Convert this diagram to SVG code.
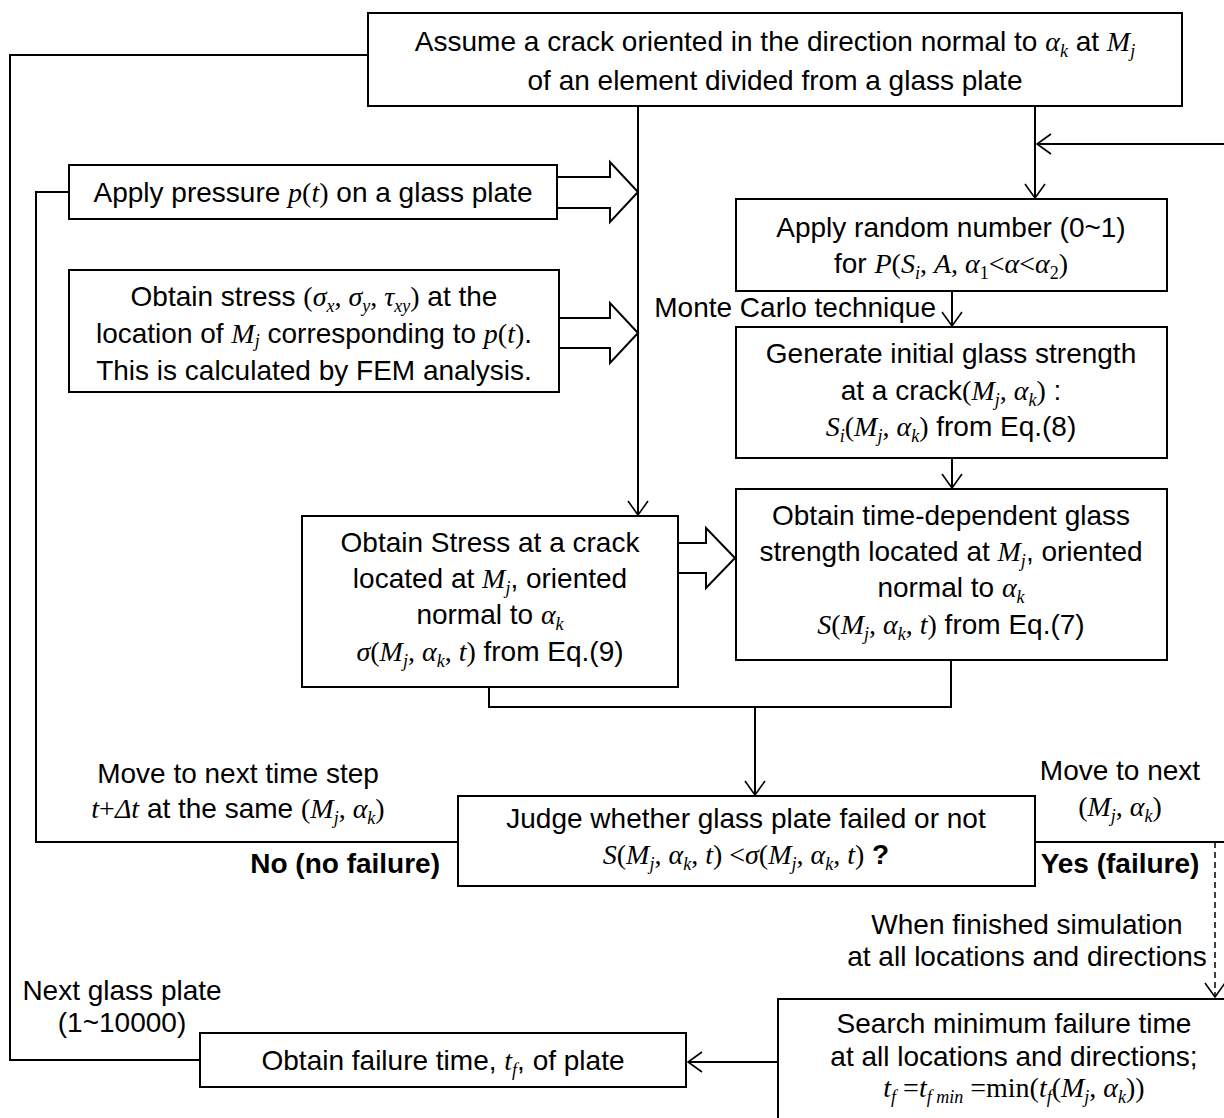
<svg xmlns="http://www.w3.org/2000/svg" width="1224" height="1118" viewBox="0 0 1224 1118">
<defs>
<style>
.bg{fill:#fff}
.box{fill:#fff;stroke:#000;stroke-width:2}
.ln{fill:none;stroke:#000;stroke-width:2}
.dash{fill:none;stroke:#000;stroke-width:1.5;stroke-dasharray:6 4}
.hol{fill:#fff;stroke:#000;stroke-width:2;stroke-linejoin:miter}
.t{font-family:"Liberation Sans",Arial,sans-serif;font-size:28px;fill:#000;text-anchor:middle}
.b{font-weight:bold}
.m{font-family:"Liberation Serif","Times New Roman",serif;font-style:italic}
.r{font-family:"Liberation Serif","Times New Roman",serif;font-style:normal}
.s{font-family:"Liberation Serif","Times New Roman",serif;font-style:italic;font-size:18px}
.su{font-family:"Liberation Serif","Times New Roman",serif;font-style:normal;font-size:18px}
</style>
<marker id="ah" viewBox="0 0 16 22" refX="15" refY="11" markerWidth="16" markerHeight="22" orient="auto" markerUnits="userSpaceOnUse">
<path d="M1,1 L15,11 L1,21" fill="none" stroke="#000" stroke-width="1.6"/>
</marker>
</defs>
<rect class="bg" x="0" y="0" width="1224" height="1118"/>

<g id="connectors">
<polyline class="ln" points="368,55 10,55 10,1060 200,1060"/>
<polyline class="ln" points="458,842 36,842 36,192 69,192"/>
<line class="ln" x1="638" y1="106" x2="638" y2="515" marker-end="url(#ah)"/>
<line class="ln" x1="1035" y1="106" x2="1035" y2="198" marker-end="url(#ah)"/>
<line class="ln" x1="1224" y1="144" x2="1037" y2="144" marker-end="url(#ah)"/>
<line class="ln" x1="952" y1="291" x2="952" y2="326" marker-end="url(#ah)"/>
<line class="ln" x1="952" y1="458" x2="952" y2="488" marker-end="url(#ah)"/>
<polyline class="ln" points="489,687 489,707 951,707 951,660"/>
<line class="ln" x1="755" y1="707" x2="755" y2="795" marker-end="url(#ah)"/>
<line class="ln" x1="1035" y1="842" x2="1224" y2="842"/>
<line class="dash" x1="1215" y1="842" x2="1215" y2="997" marker-end="url(#ah)"/>
<line class="ln" x1="778" y1="1062" x2="688" y2="1062" marker-end="url(#ah)"/>
<path class="hol" d="M557,177 L610,177 L610,162 L638,192 L610,222 L610,208 L557,208 Z"/>
<path class="hol" d="M559,318 L610,318 L610,303 L638,333 L610,363 L610,348 L559,348 Z"/>
<path class="hol" d="M678,543 L706,543 L706,528 L735,558 L706,588 L706,573 L678,573 Z"/>
</g>

<g id="n-assume">
<rect class="box" x="368" y="13" width="814" height="93"/>
<text class="t" x="775" y="51">Assume a crack oriented in the direction normal to <tspan class="m">α</tspan><tspan class="s" dy="6">k</tspan><tspan dy="-6"> at </tspan><tspan class="m">M</tspan><tspan class="s" dy="6">j</tspan></text>
<text class="t" x="775" y="90">of an element divided from a glass plate</text>
</g>

<g id="n-pressure">
<rect class="box" x="69" y="165" width="488" height="54"/>
<text class="t" x="313" y="202">Apply pressure <tspan class="m">p</tspan><tspan class="r">(</tspan><tspan class="m">t</tspan><tspan class="r">)</tspan> on a glass plate</text>
</g>

<g id="n-stress">
<rect class="box" x="69" y="270" width="490" height="122"/>
<text class="t" x="314" y="306">Obtain stress <tspan class="r">(</tspan><tspan class="m">σ</tspan><tspan class="s" dy="6">x</tspan><tspan class="r" dy="-6">, </tspan><tspan class="m">σ</tspan><tspan class="s" dy="6">y</tspan><tspan class="r" dy="-6">, </tspan><tspan class="m">τ</tspan><tspan class="s" dy="6">xy</tspan><tspan class="r" dy="-6">)</tspan> at the</text>
<text class="t" x="314" y="343">location of <tspan class="m">M</tspan><tspan class="s" dy="4">j</tspan><tspan dy="-4"> corresponding to </tspan><tspan class="m">p</tspan><tspan class="r">(</tspan><tspan class="m">t</tspan><tspan class="r">)</tspan>.</text>
<text class="t" x="314" y="380">This is calculated by FEM analysis.</text>
</g>

<g id="n-random">
<rect class="box" x="736" y="199" width="431" height="92"/>
<text class="t" x="951" y="237">Apply random number (0~1)</text>
<text class="t" x="951" y="273">for <tspan class="m">P</tspan><tspan class="r">(</tspan><tspan class="m">S</tspan><tspan class="s" dy="6">i</tspan><tspan class="r" dy="-6">, </tspan><tspan class="m">A</tspan><tspan class="r">, </tspan><tspan class="m">α</tspan><tspan class="su" dy="6">1</tspan><tspan class="r" dy="-6">&lt;</tspan><tspan class="m">α</tspan><tspan class="r">&lt;</tspan><tspan class="m">α</tspan><tspan class="su" dy="6">2</tspan><tspan class="r" dy="-6">)</tspan></text>
</g>

<g id="l-montecarlo">
<text class="t" x="936" y="317" style="text-anchor:end">Monte Carlo technique</text>
</g>

<g id="n-generate">
<rect class="box" x="736" y="327" width="431" height="131"/>
<text class="t" x="951" y="363">Generate initial glass strength</text>
<text class="t" x="951" y="400">at a crack<tspan class="r">(</tspan><tspan class="m">M</tspan><tspan class="s" dy="6">j</tspan><tspan class="r" dy="-6">, </tspan><tspan class="m">α</tspan><tspan class="s" dy="6">k</tspan><tspan class="r" dy="-6">)</tspan> :</text>
<text class="t" x="951" y="436"><tspan class="m">S</tspan><tspan class="s" dy="6">i</tspan><tspan class="r" dy="-6">(</tspan><tspan class="m">M</tspan><tspan class="s" dy="6">j</tspan><tspan class="r" dy="-6">, </tspan><tspan class="m">α</tspan><tspan class="s" dy="6">k</tspan><tspan class="r" dy="-6">)</tspan> from Eq.(8)</text>
</g>

<g id="n-timedep">
<rect class="box" x="736" y="489" width="431" height="171"/>
<text class="t" x="951" y="525">Obtain time-dependent glass</text>
<text class="t" x="951" y="561">strength located at <tspan class="m">M</tspan><tspan class="s" dy="6">j</tspan><tspan dy="-6">, oriented</tspan></text>
<text class="t" x="951" y="597">normal to <tspan class="m">α</tspan><tspan class="s" dy="6">k</tspan></text>
<text class="t" x="951" y="634"><tspan class="m">S</tspan><tspan class="r">(</tspan><tspan class="m">M</tspan><tspan class="s" dy="6">j</tspan><tspan class="r" dy="-6">, </tspan><tspan class="m">α</tspan><tspan class="s" dy="6">k</tspan><tspan class="r" dy="-6">, </tspan><tspan class="m">t</tspan><tspan class="r">)</tspan> from Eq.(7)</text>
</g>

<g id="n-crackstress">
<rect class="box" x="302" y="516" width="376" height="171"/>
<text class="t" x="490" y="552">Obtain Stress at a crack</text>
<text class="t" x="490" y="588">located at <tspan class="m">M</tspan><tspan class="s" dy="6">j</tspan><tspan dy="-6">, oriented</tspan></text>
<text class="t" x="490" y="624">normal to <tspan class="m">α</tspan><tspan class="s" dy="6">k</tspan></text>
<text class="t" x="490" y="661"><tspan class="m">σ</tspan><tspan class="r">(</tspan><tspan class="m">M</tspan><tspan class="s" dy="6">j</tspan><tspan class="r" dy="-6">, </tspan><tspan class="m">α</tspan><tspan class="s" dy="6">k</tspan><tspan class="r" dy="-6">, </tspan><tspan class="m">t</tspan><tspan class="r">)</tspan> from Eq.(9)</text>
</g>

<g id="n-judge">
<rect class="box" x="458" y="796" width="577" height="90"/>
<text class="t" x="746" y="828">Judge whether glass plate failed or not</text>
<text class="t" x="746" y="864"><tspan class="m">S</tspan><tspan class="r">(</tspan><tspan class="m">M</tspan><tspan class="s" dy="6">j</tspan><tspan class="r" dy="-6">, </tspan><tspan class="m">α</tspan><tspan class="s" dy="6">k</tspan><tspan class="r" dy="-6">, </tspan><tspan class="m">t</tspan><tspan class="r">) &lt;</tspan><tspan class="m">σ</tspan><tspan class="r">(</tspan><tspan class="m">M</tspan><tspan class="s" dy="6">j</tspan><tspan class="r" dy="-6">, </tspan><tspan class="m">α</tspan><tspan class="s" dy="6">k</tspan><tspan class="r" dy="-6">, </tspan><tspan class="m">t</tspan><tspan class="r">)</tspan><tspan class="b"> ?</tspan></text>
</g>

<g id="l-nexttime">
<text class="t" x="238" y="783">Move to next time step</text>
<text class="t" x="238" y="818"><tspan class="m">t</tspan><tspan class="r">+</tspan><tspan class="m">Δt</tspan> at the same <tspan class="r">(</tspan><tspan class="m">M</tspan><tspan class="s" dy="6">j</tspan><tspan class="r" dy="-6">, </tspan><tspan class="m">α</tspan><tspan class="s" dy="6">k</tspan><tspan class="r" dy="-6">)</tspan></text>
<text class="t b" x="440" y="873" style="text-anchor:end">No (no failure)</text>
</g>

<g id="l-nextloc">
<text class="t" x="1120" y="780">Move to next</text>
<text class="t" x="1120" y="816"><tspan class="r">(</tspan><tspan class="m">M</tspan><tspan class="s" dy="6">j</tspan><tspan class="r" dy="-6">, </tspan><tspan class="m">α</tspan><tspan class="s" dy="6">k</tspan><tspan class="r" dy="-6">)</tspan></text>
<text class="t b" x="1120" y="873">Yes (failure)</text>
</g>

<g id="l-finished">
<text class="t" x="1027" y="934">When finished simulation</text>
<text class="t" x="1027" y="966">at all locations and directions</text>
</g>

<g id="n-search">
<rect class="box" x="778" y="999" width="480" height="140"/>
<text class="t" x="1014" y="1033">Search minimum failure time</text>
<text class="t" x="1014" y="1066">at all locations and directions;</text>
<text class="t" x="1014" y="1097"><tspan class="m">t</tspan><tspan class="s" dy="6">f</tspan><tspan class="r" dy="-6"> =</tspan><tspan class="m">t</tspan><tspan class="s" dy="6">f min</tspan><tspan class="r" dy="-6"> =min(</tspan><tspan class="m">t</tspan><tspan class="s" dy="6">f</tspan><tspan class="r" dy="-6">(</tspan><tspan class="m">M</tspan><tspan class="s" dy="6">j</tspan><tspan class="r" dy="-6">, </tspan><tspan class="m">α</tspan><tspan class="s" dy="6">k</tspan><tspan class="r" dy="-6">))</tspan></text>
</g>

<g id="l-nextplate">
<text class="t" x="122" y="1000">Next glass plate</text>
<text class="t" x="122" y="1032">(1~10000)</text>
</g>

<g id="n-failure">
<rect class="box" x="200" y="1033" width="486" height="54"/>
<text class="t" x="443" y="1070">Obtain failure time, <tspan class="m">t</tspan><tspan class="s" dy="6">f</tspan><tspan dy="-6">, of plate</tspan></text>
</g>
</svg>
